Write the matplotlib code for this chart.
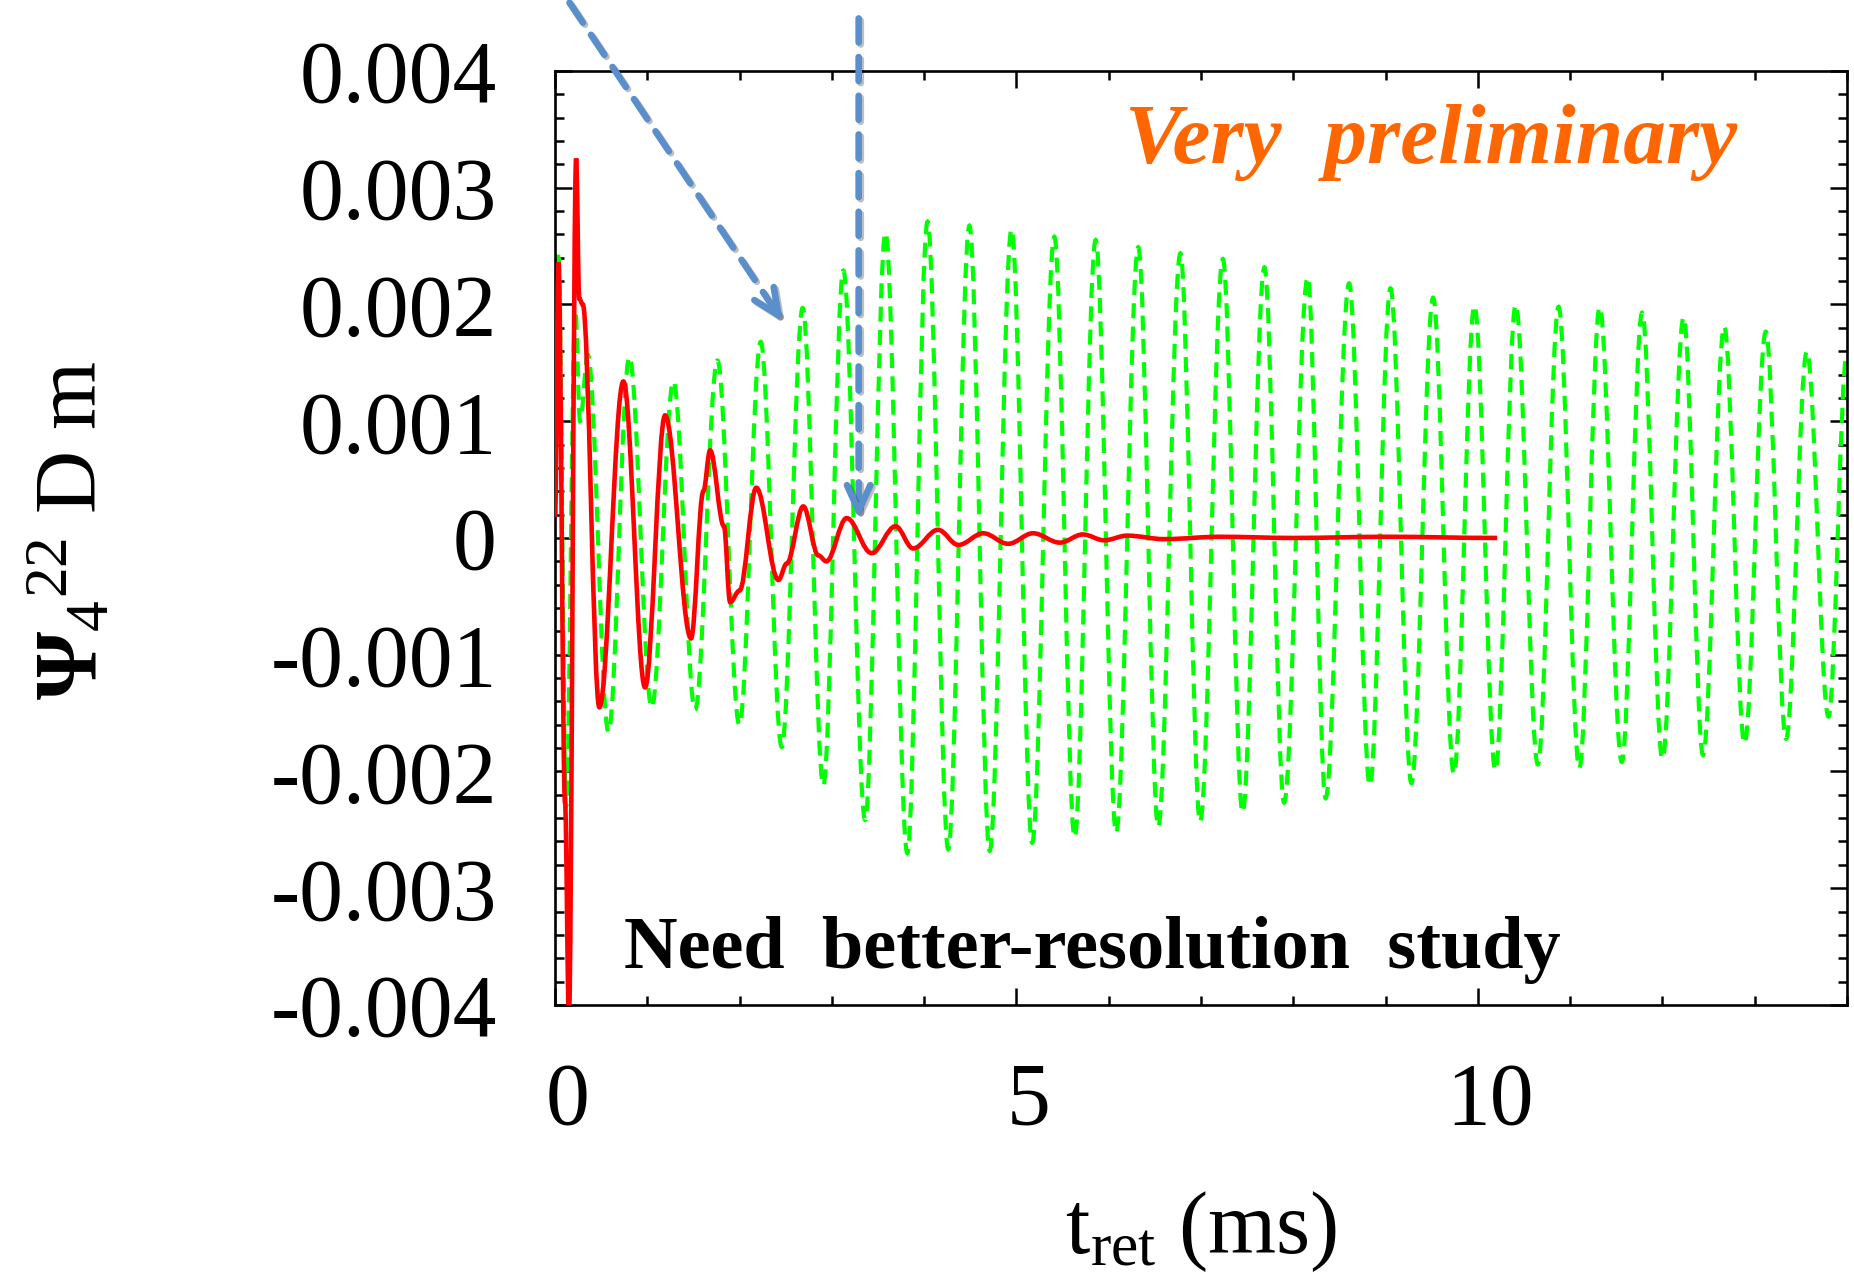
import numpy as np
import matplotlib
matplotlib.use('Agg')
import matplotlib.pyplot as plt
from matplotlib import patheffects as pe
from matplotlib.path import Path
from matplotlib.patches import PathPatch
from matplotlib.transforms import ScaledTranslation

plt.rcParams['font.family'] = ['Liberation Serif', 'DejaVu Serif']
plt.rcParams['mathtext.fontset'] = 'custom'
plt.rcParams['mathtext.rm'] = 'Liberation Serif'
plt.rcParams['mathtext.it'] = 'Liberation Serif:italic'
plt.rcParams['mathtext.bf'] = 'Liberation Serif:bold'
plt.rcParams['axes.unicode_minus'] = False

# Psi4 (l=m=2) waveform, extrema along the retarded time (ms), amplitude in units of 1e-3
green_t = [0.0, 0.036, 0.12, 0.22, 0.27, 0.355, 0.578, 0.805, 1.047, 1.282, 1.517,
           1.759, 1.997, 2.228, 2.456, 2.683, 2.907, 3.124, 3.36, 3.58, 3.817, 4.036,
           4.26, 4.49, 4.71, 4.947, 5.17, 5.41, 5.63, 5.858, 6.08, 6.32, 6.536, 6.776,
           6.99, 7.237, 7.45, 7.687, 7.9, 8.156, 8.35, 8.605, 8.83, 9.053, 9.28, 9.515,
           9.74, 9.963, 10.19, 10.41, 10.65, 10.875, 11.10, 11.32, 11.56, 11.78, 12.00,
           12.23, 12.44, 12.67, 12.89, 13.12, 13.34, 13.565, 13.80, 14.0]
green_v = [0.3, 2.45, -2.3, 1.95, 1.0, 1.57, -1.66, 1.55, -1.45, 1.34, -1.47,
           1.52, -1.60, 1.68, -1.79, 1.97, -2.12, 2.29, -2.415, 2.615, -2.70, 2.71,
           -2.667, 2.675, -2.68, 2.644, -2.61, 2.58, -2.564, 2.552, -2.524, 2.49, -2.473, 2.438,
           -2.43, 2.39, -2.35, 2.318, -2.267, 2.233, -2.23, 2.181, -2.12, 2.138, -2.10, 2.058,
           -2.02, 1.99, -1.99, 1.996, -1.94, 1.98, -1.97, 1.976, -1.92, 1.93, -1.89,
           1.89, -1.86, 1.81, -1.76, 1.767, -1.72, 1.596, -1.53, 1.58]

red_t = [0.0, 0.036, 0.108, 0.15, 0.228, 0.262, 0.30, 0.48, 0.74, 0.975, 1.192, 1.473,
         1.607, 1.68, 1.83, 1.897, 2.0, 2.18, 2.42, 2.51, 2.69, 2.853, 2.94, 3.16, 3.43,
         3.69, 3.88, 4.15, 4.37, 4.64, 4.91, 5.18, 5.47, 5.72, 5.95, 6.2, 6.6, 7.2,
         8.0, 9.0, 10.21]
red_v = [0.18, 2.36, -2.27, -4.1, 3.25, 2.05, 2.0, -1.45, 1.34, -1.28, 1.05, -0.86,
         0.40, 0.75, 0.1, -0.55, -0.45, 0.43, -0.36, -0.22, 0.27, -0.15, -0.20, 0.17, -0.13,
         0.10, -0.09, 0.07, -0.06, 0.04, -0.05, 0.04, -0.04, 0.03, -0.02, 0.02, -0.01, 0.01,
         0.0, 0.01, 0.0]

xtick_vals = [0, 5, 10]
xtick_labels = ['0', '5', '10']
ytick_vals = [-0.004, -0.003, -0.002, -0.001, 0.0, 0.001, 0.002, 0.003, 0.004]
ytick_labels = ['-0.004', '-0.003', '-0.002', '-0.001', '0', '0.001', '0.002', '0.003', '0.004']


def wave_path(t, v):
    # smooth curve through the turning points, flat tangent at each of them
    verts = [(t[0], v[0])]
    codes = [Path.MOVETO]
    for i in range(1, len(t)):
        dt = t[i] - t[i - 1]
        verts += [(t[i - 1] + 0.36 * dt, v[i - 1]), (t[i] - 0.36 * dt, v[i]), (t[i], v[i])]
        codes += [Path.CURVE4] * 3
    return Path(verts, codes)


fig = plt.figure(figsize=(18.54, 12.81), dpi=100)
ax = fig.add_axes([0.2994, 0.2155, 0.6968, 0.7291])

ax.add_patch(PathPatch(wave_path(green_t, np.array(green_v) * 1e-3), fill=False,
                       edgecolor='#00ff00', lw=3.0, ls=(0, (3.6, 2.0)), zorder=2))
ax.add_patch(PathPatch(wave_path(red_t, np.array(red_v) * 1e-3), fill=False,
                       edgecolor='#ff0000', lw=3.3, zorder=3))

ax.set_xlim(0, 14)
ax.set_ylim(-0.004, 0.004)
ax.set_xticks(xtick_vals)
ax.set_xticklabels(xtick_labels)
ax.set_xticks(np.arange(0, 15, 1), minor=True)
ax.set_yticks(ytick_vals)
ax.set_yticklabels(ytick_labels)
ax.set_yticks(np.arange(-0.004, 0.00401, 0.0002), minor=True)

ax.tick_params(which='both', direction='in', top=True, right=True, width=1.8,
               labelsize=63)
ax.tick_params(which='major', length=12)
ax.tick_params(which='minor', length=6.5)
ax.tick_params(axis='x', which='major', pad=41)
ax.tick_params(axis='y', which='major', pad=42)
for s in ax.spines.values():
    s.set_linewidth(1.9)

shift = ScaledTranslation(0.12, 0, fig.dpi_scale_trans)
for lab in ax.get_xticklabels():
    lab.set_transform(lab.get_transform() + shift)

# axis labels
fig.text(72 / 1854, 1 - 530 / 1281, r'$\mathbf{\Psi}_{4}{}^{22}\ \mathrm{D\ m}$',
         rotation=90, ha='center', va='center', fontsize=63)
fig.text(1201 / 1854, 28 / 1281, r'$\mathrm{t}_{\mathrm{ret}}$ (ms)',
         ha='center', va='baseline', fontsize=63)

ax.text(1125 / 1854, 1 - 163 / 1281, 'Very  preliminary', transform=fig.transFigure,
        color='#ff6600', fontsize=61.5, fontweight='bold', fontstyle='italic',
        ha='left', va='baseline')
ax.text(624 / 1854, 1 - 968 / 1281, 'Need  better-resolution  study',
        transform=fig.transFigure, color='black', fontsize=53.5, fontweight='bold',
        ha='left', va='baseline')

# dashed pointer arrows
blue = '#5b8fcb'
shadow = [pe.SimpleLineShadow(offset=(1.5, -1.5), alpha=0.25), pe.Normal()]
arrows = [((-0.076, 0.00486), (2.47, 0.00185)),
          ((3.29, 0.00445), (3.29, 0.00016))]
for start, tip in arrows:
    ax.annotate('', xy=tip, xytext=start, annotation_clip=False,
                arrowprops=dict(arrowstyle='-', lw=4.8, ls=(0, (3.6, 2.2)),
                                color=blue, shrinkA=0, shrinkB=0,
                                path_effects=shadow, clip_on=False))
    back = (tip[0] + 0.04 * (start[0] - tip[0]), tip[1] + 0.04 * (start[1] - tip[1]))
    ax.annotate('', xy=tip, xytext=back, annotation_clip=False,
                arrowprops=dict(arrowstyle='->,head_length=1.87,head_width=0.84',
                                mutation_scale=10, lw=4.8, color=blue,
                                shrinkA=0, shrinkB=0, path_effects=shadow,
                                clip_on=False))

fig.savefig('out.png', dpi=100)
